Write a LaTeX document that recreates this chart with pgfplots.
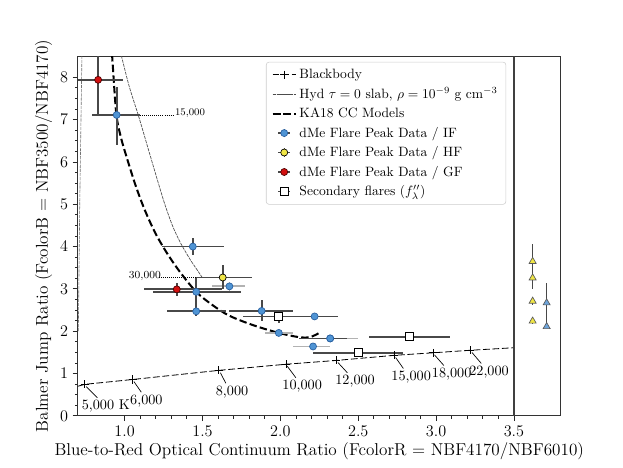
\documentclass[border=0pt]{standalone}
\usepackage{pgfplots}
\pgfplotsset{compat=1.18}
\definecolor{ifblue}{RGB}{79,148,212}
\definecolor{ifedge}{RGB}{40,95,160}
\definecolor{hfyellow}{RGB}{240,230,70}
\definecolor{gfred}{RGB}{210,15,15}
\definecolor{errdark}{RGB}{72,72,72}
\definecolor{errlight}{RGB}{178,178,178}
\definecolor{triblue}{RGB}{110,165,220}
\pgfplotsset{
  errlegend/.style={legend image code/.code={
    \draw[errdark, line width=0.9pt] (0.14cm,0cm) -- (0.46cm,0cm);
    \draw[errdark, line width=0.9pt] (0.3cm,-0.11cm) -- (0.3cm,0.11cm);
    \draw[mark repeat=2,mark phase=2,##1] plot coordinates {(0cm,0cm) (0.3cm,0cm) (0.6cm,0cm)};}},
  bblegend/.style={legend image code/.code={
    \draw[##1, mark indices={2}] plot coordinates {(0cm,0cm) (0.3cm,0cm) (0.6cm,0cm)};}},
}
\begin{document}
\begin{tikzpicture}
\useasboundingbox (-57.6pt,-38pt) rectangle (403.2pt,307.6pt);
\begin{axis}[
  at={(0,0)}, anchor=south west,
  scale only axis, width=357.1pt, height=266.1pt,
  xmin=0.7, xmax=3.8, ymin=0, ymax=8.5,
  xtick={1,1.5,2,2.5,3,3.5}, ytick={0,1,2,3,4,5,6,7,8},
  minor x tick num=4, minor y tick num=3,
  xticklabel style={/pgf/number format/.cd, fixed, fixed zerofill, precision=1},
  xtick pos=bottom, ytick pos=left, tick align=outside,
  major tick length=3.8pt, minor tick length=2.2pt,
  tick style={black!85, line width=0.6pt},
  axis line style={black!80, line width=0.8pt},
  ticklabel style={font=\fontsize{13}{15}\selectfont},
  label style={font=\fontsize{12.7}{15}\selectfont},
  xlabel={Blue-to-Red Optical Continuum Ratio (FcolorR = NBF4170/NBF6010)},
  ylabel={Balmer Jump Ratio (FcolorB = NBF3500/NBF4170)},
  xlabel style={yshift=2pt},
  ylabel style={yshift=-1pt},
  legend style={at={(0.887,0.984)}, anchor=north east, draw=black!20, rounded corners=2pt,
    font=\fontsize{10}{11.5}\selectfont, row sep=1.4pt, inner xsep=4pt, inner ysep=3pt, fill=white},
  legend cell align=left,
  error bars/error bar style={errdark, line width=1.3pt},
  error bars/error mark=none,
]
% Blackbody
\addplot[bblegend, black, line width=0.6pt, dash pattern=on 5pt off 2pt, mark=+, mark size=3pt,
  mark options={solid, line width=0.6pt}, mark indices={2,3,4,5,6,7,8,9}]
  coordinates {(0.70,0.70) (0.744,0.745) (1.053,0.86) (1.605,1.075) (2.036,1.22) (2.36,1.31) (2.73,1.43) (2.98,1.49) (3.22,1.55) (3.5,1.61)};
\addlegendentry{Blackbody}
% Hyd slab
\addplot[black!70, line width=0.5pt, dash pattern=on 2.4pt off 0.7pt, smooth, tension=0.5]
  coordinates {(0.955,8.9) (0.98,8.5) (1.03,7.78) (1.09,7.08) (1.15,6.33) (1.21,5.58) (1.26,4.98) (1.31,4.47) (1.36,4.08) (1.42,3.70) (1.46,3.48) (1.50,3.26)};
\addlegendentry{Hyd $\tau=0$ slab, $\rho=10^{-9}$ g cm$^{-3}$}
% KA18
\addplot[black, line width=1.5pt, dash pattern=on 5.5pt off 2.4pt, smooth, tension=0.5]
  coordinates {(0.912,8.8) (0.92,8.5) (0.946,7.16) (0.975,6.6) (1.01,6.15) (1.07,5.45) (1.13,4.86) (1.20,4.30) (1.28,3.80) (1.37,3.33) (1.48,2.86) (1.65,2.41) (1.82,2.15) (1.99,1.96) (2.12,1.86) (2.19,1.86) (2.245,1.95)};
\addlegendentry{KA18 CC Models}
% Hyd slab low-temperature branch along left edge
\addplot[black!55, line width=0.45pt, dash pattern=on 2.4pt off 0.7pt, forget plot] coordinates {(0.703,2.0) (0.712,5.0) (0.726,8.5)};
% vertical line
\addplot[black!75, line width=1.5pt, forget plot] coordinates {(3.5,0) (3.5,8.5)};
% leader lines for blackbody labels
\addplot[black, line width=0.5pt, forget plot] coordinates {(0.754,0.69) (0.825,0.43)};
\addplot[black, line width=0.5pt, forget plot] coordinates {(1.06,0.81) (1.107,0.56)};
\addplot[black, line width=0.5pt, forget plot] coordinates {(1.615,1.02) (1.65,0.77)};
\addplot[black, line width=0.5pt, forget plot] coordinates {(2.045,1.17) (2.10,0.90)};
\addplot[black, line width=0.5pt, forget plot] coordinates {(2.37,1.26) (2.43,1.02)};
\addplot[black, line width=0.5pt, forget plot] coordinates {(2.74,1.38) (2.79,1.12)};
\addplot[black, line width=0.5pt, forget plot] coordinates {(2.99,1.44) (3.05,1.19)};
\addplot[black, line width=0.5pt, forget plot] coordinates {(3.23,1.50) (3.29,1.24)};
% dotted leaders for slab labels
\addplot[black, line width=0.5pt, densely dotted, forget plot] coordinates {(1.10,7.11) (1.31,7.11)};
\addplot[black, line width=0.5pt, densely dotted, forget plot] coordinates {(1.22,3.27) (1.50,3.27)};
% light error bar IF points
\addplot[forget plot, only marks, mark=*, mark size=2.6pt, mark options={fill=ifblue, draw=ifedge, line width=0.5pt},
  error bars/.cd, x dir=both, x explicit, y dir=both, y explicit,
  error bar style={errlight, line width=1.3pt}]
  coordinates {
  (1.673,3.06) += (0.10,0.10) -= (0.11,0.10)
  (1.99,1.96) += (0.09,0.05) -= (0.09,0.05)
  (2.21,1.64) += (0.11,0.05) -= (0.13,0.05)
  (2.32,1.83) += (0.18,0.05) -= (0.20,0.05)
  };
% triangles
\addplot[forget plot, only marks, mark=triangle*, mark size=3pt, mark options={fill=hfyellow, draw=black!65, line width=0.5pt},
  error bars/.cd, y dir=both, y explicit, error bar style={errdark, line width=1pt}]
  coordinates {
  (3.62,3.65) += (0,0.40) -= (0,0.20)
  (3.62,3.26) += (0,0.20) -= (0,0.27)
  (3.62,2.71) += (0,0.10) -= (0,0.10)
  (3.62,2.24) += (0,0.06) -= (0,0.06)
  };
\addplot[forget plot, only marks, mark=triangle*, mark size=3pt, mark options={fill=triblue, draw=black!65, line width=0.5pt},
  error bars/.cd, y dir=both, y explicit, error bar style={errdark, line width=1pt}]
  coordinates {
  (3.71,2.67) += (0,0.47) -= (0,0.30)
  (3.71,2.11) += (0,0.30) -= (0,0.03)
  };
% IF
\addplot[errlegend, only marks, mark=*, mark size=2.6pt, mark options={fill=ifblue, draw=ifedge, line width=0.5pt},
  error bars/.cd, x dir=both, x explicit, y dir=both, y explicit]
  coordinates {
  (0.949,7.11) += (0.15,0.67) -= (0.16,0.71)
  (1.438,4.00) += (0.20,0.20) -= (0.20,0.20)
  (1.46,2.93) += (0.29,0.33) -= (0.28,0.33)
  (1.46,2.47) += (0.19,0.12) -= (0.19,0.12)
  (1.88,2.48) += (0.20,0.26) -= (0.21,0.24)
  (2.22,2.35) += (0.15,0.08) -= (0.14,0.08)
  (2.32,1.83) += (0.11,0.05) -= (0.20,0.05)
  };
\addlegendentry{dMe Flare Peak Data / IF}
% HF
\addplot[errlegend, only marks, mark=*, mark size=2.6pt, mark options={fill=hfyellow, draw=black, line width=0.5pt},
  error bars/.cd, x dir=both, x explicit, y dir=both, y explicit]
  coordinates {(1.63,3.27) += (0.19,0.30) -= (0.17,0.28)};
\addlegendentry{dMe Flare Peak Data / HF}
% GF
\addplot[errlegend, only marks, mark=*, mark size=2.6pt, mark options={fill=gfred, draw=black!70!red, line width=0.5pt},
  error bars/.cd, x dir=both, x explicit, y dir=both, y explicit]
  coordinates {
  (0.83,7.94) += (0.16,0.65) -= (0.13,0.84)
  (1.335,2.99) += (0.29,0.15) -= (0.21,0.16)
  };
\addlegendentry{dMe Flare Peak Data / GF}
% Secondary
\addplot[errlegend, only marks, mark=square*, mark size=3pt, mark options={fill=white, draw=black, line width=0.8pt},
  error bars/.cd, x dir=both, x explicit, y dir=both, y explicit]
  coordinates {
  (1.99,2.35) += (0.37,0.14) -= (0.23,0.15)
  (2.50,1.49) += (0.29,0.04) -= (0.29,0.04)
  (2.83,1.87) += (0.26,0.04) -= (0.26,0.04)
  };
\addlegendentry{Secondary flares ($f''_\lambda$)}
% labels
\node[font=\fontsize{10.5}{12}\selectfont] at (axis cs:0.88,0.23) {5,000 K};
\node[font=\fontsize{10.5}{12}\selectfont] at (axis cs:1.14,0.35) {6,000};
\node[font=\fontsize{10.5}{12}\selectfont] at (axis cs:1.69,0.57) {8,000};
\node[font=\fontsize{10.5}{12}\selectfont] at (axis cs:2.14,0.70) {10,000};
\node[font=\fontsize{10.5}{12}\selectfont] at (axis cs:2.48,0.81) {12,000};
\node[font=\fontsize{10.5}{12}\selectfont] at (axis cs:2.84,0.92) {15,000};
\node[font=\fontsize{10.5}{12}\selectfont] at (axis cs:3.10,0.98) {18,000};
\node[font=\fontsize{10.5}{12}\selectfont] at (axis cs:3.34,1.04) {22,000};
\node[font=\fontsize{7.5}{9}\selectfont] at (axis cs:1.42,7.15) {15,000};
\node[font=\fontsize{8}{10}\selectfont] at (axis cs:1.13,3.30) {30,000};
\end{axis}
\end{tikzpicture}
\end{document}
